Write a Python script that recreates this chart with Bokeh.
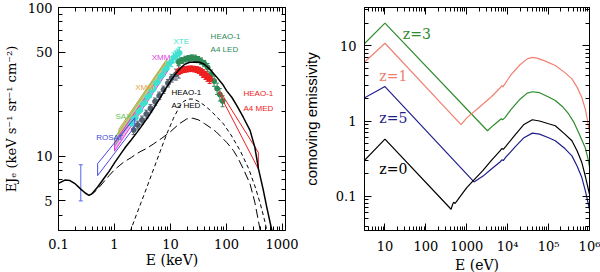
from bokeh.plotting import figure
from bokeh.models import LogAxis, FixedTicker, Label, Whisker, ColumnDataSource, TeeHead
from bokeh.layouts import row
from bokeh.embed import file_html
from bokeh.resources import INLINE

SERIF = "DejaVu Serif"
SANS = "Liberation Sans"

# ---------------- Left panel data (E in keV, EJ_E) ----------------
E_total = [0.1, 0.13, 0.16, 0.2, 0.25, 0.3, 0.35, 0.4, 0.5, 0.64, 0.8, 1.0, 1.3, 1.6, 2.0, 2.5, 3.0, 4.0, 5.0,
           6.5, 8.0, 10, 12.5, 15, 18, 22, 27, 33, 40, 50, 67, 85, 100, 125, 153, 200, 263, 320, 372, 450, 525, 645]
V_total = [6.55, 6.9, 6.85, 6.5, 6.0, 5.65, 5.45, 5.6, 6.2, 7.05, 7.9, 9.0, 10.4, 11.6, 12.9, 14.4, 15.8, 18.4, 21.0,
           24.6, 28.0, 32.0, 36.0, 39.0, 41.5, 42.8, 43.0, 42.8, 41.5, 38.5, 34.0, 30.5, 27.6, 24.8, 21.9, 18.2, 14.9,
           11.5, 8.2, 6.0, 4.5, 3.16]

E_long = [0.35, 0.42, 0.5, 0.64, 0.8, 1.0, 1.45, 2.0, 2.5, 3.0, 3.8, 5.0, 7.0, 10, 14, 19.5, 25, 32, 40, 51, 65, 80,
          100, 133, 160, 200, 263, 320, 400]
V_long = [5.45, 5.65, 6.0, 6.7, 7.4, 8.1, 9.1, 9.8, 10.4, 10.8, 11.3, 12.1, 13.2, 14.6, 16.4, 17.8, 18.0, 17.5, 16.6,
          15.6, 14.6, 13.5, 12.4, 10.9, 9.7, 8.2, 6.5, 4.9, 3.16]

E_short = [1.9, 2.5, 3.0, 3.8, 5.0, 6.5, 8.5, 11.3, 14, 17, 21, 26, 32, 40, 50, 65, 88, 120, 175, 250, 325, 400, 470, 525]
V_short = [3.1, 4.1, 4.9, 6.2, 8.2, 10.7, 14.0, 18.0, 21.0, 23.3, 24.2, 24.2, 23.3, 22.0, 20.5, 18.6, 16.5, 13.9, 10.9,
           8.2, 6.2, 4.8, 3.8, 3.16]

# ROSAT bowtie and HEAO-1 A4 MED bowtie outlines
E_rosat = [0.5, 0.5, 2.3, 2.3]
V_rosat = [8.9, 7.4, 15.8, 18.1]
E_med_box = [72, 370, 370, 78]
V_med_box = [27.0, 8.2, 10.6, 27.0]

# SAX / XMM / XMM spectral bands (lower edge then upper edge, reversed)
E_sax = [1.0, 8.0, 8.0, 1.0]
V_sax = [11.6, 38.0, 42.5, 13.2]
E_xmm1 = [1.2, 8.6, 8.6, 1.2]
V_xmm1 = [13.6, 40.5, 45.0, 15.2]
E_xmm2 = [1.0, 9.0, 9.0, 1.0]
V_xmm2 = [10.8, 37.5, 41.5, 12.4]

# XTE points
E_xte = [2.0, 2.2, 2.4, 2.65, 2.9, 3.2, 3.5, 3.85, 4.2, 4.6, 5.0, 5.5, 6.0, 6.6, 7.2, 7.9, 8.6, 9.4, 10.3, 11.3,
         12.3, 13.4, 14.5]
V_xte = [16.5, 17.8, 18.2, 19.8, 20.4, 22.3, 22.9, 24.9, 25.5, 27.6, 28.3, 30.8, 31.6, 34.2, 35.2, 38.0, 39.0, 42.0,
         43.2, 46.0, 46.8, 48.5, 49.5]
E_xte_err = [10.3, 11.3, 12.3, 13.4, 14.5]
V_xte_lo = [40.0, 42.5, 43.0, 44.5, 45.0]
V_xte_hi = [46.5, 49.5, 51.0, 52.5, 54.0]

# Gray points
E_gray = [2.2, 2.6, 3.1, 3.7, 4.4, 5.3, 6.3, 7.5, 9.0, 10.5, 12.5, 14.0]
V_gray = [15.0, 16.2, 17.5, 19.2, 21.0, 23.3, 25.5, 28.0, 31.0, 33.5, 35.5, 37.0]
V_gray_lo = [14.0, 15.2, 16.4, 18.0, 19.8, 22.0, 24.0, 26.4, 29.2, 31.5, 32.5, 33.5]
V_gray_hi = [16.0, 17.2, 18.6, 20.4, 22.2, 24.6, 27.0, 29.6, 32.8, 35.5, 38.5, 40.5]

# HEAO-1 A4 LED points
E_led = [14, 16, 18.5, 21, 24, 27.5, 31, 35, 40, 46, 53, 60, 68, 76, 85]
V_led = [43.0, 44.0, 45.0, 45.5, 45.8, 45.5, 44.5, 43.5, 42.0, 39.5, 35.5, 32.0, 28.5, 26.0, 23.5]
V_led_lo = [41.0, 42.0, 43.0, 43.5, 43.8, 43.5, 42.5, 41.5, 40.0, 37.0, 33.0, 29.5, 26.0, 23.5, 21.5]
V_led_hi = [45.0, 46.0, 47.0, 47.5, 48.0, 47.8, 46.8, 45.8, 44.0, 42.0, 38.0, 34.5, 31.0, 28.5, 25.5]

# HEAO-1 A4 MED points
E_med = [14, 15, 16.5, 18, 19.5, 21, 23, 25, 27, 29.5, 32, 35, 38, 42, 46, 50]
V_med = [37.0, 37.5, 38.0, 38.3, 38.5, 38.6, 38.7, 38.6, 38.5, 38.2, 37.8, 37.0, 36.0, 35.0, 34.0, 33.0]
V_med_lo = [35.5, 36.0, 36.5, 36.8, 37.0, 37.1, 37.2, 37.1, 37.0, 36.6, 36.0, 35.0, 33.8, 32.8, 31.8, 30.8]
V_med_hi = [38.5, 39.0, 39.5, 39.8, 40.0, 40.1, 40.2, 40.1, 40.0, 39.8, 39.6, 39.0, 38.2, 37.2, 36.2, 35.2]

# Low energy blue error bar
E_lowbar = [0.25]
V_lowbar_lo = [5.0]
V_lowbar_hi = [8.75]

# ---------------- Right panel data (E in eV, comoving emissivity) ----------------
E_z3 = [3.0, 10, 3200, 4500, 6000, 7000, 7500, 8500, 12000, 20000, 30000, 40000, 60000, 100000, 146000, 220000,
        309000, 420000, 541000, 650000, 782000, 900000, 1000000]
V_z3 = [10.4, 20.0, 0.742, 0.88, 1.0, 1.07, 1.04, 1.1, 1.42, 1.95, 2.35, 2.45, 2.38, 2.08, 1.87, 1.55, 1.24, 0.95,
        0.705, 0.56, 0.445, 0.33, 0.248]

E_z1 = [3.0, 10, 723, 1000, 2020, 4000, 6500, 7200, 7600, 8500, 12000, 20000, 30000, 40000, 55000, 80000, 146000,
        250000, 372000, 500000, 650000, 800000, 900000, 1000000]
V_z1 = [5.9, 10.8, 0.893, 1.1, 1.52, 2.1, 2.75, 2.95, 2.85, 3.1, 4.1, 5.6, 6.7, 7.0, 6.8, 6.3, 5.46, 4.4, 3.63, 2.8,
        2.06, 1.4, 1.0, 0.705]

E_z5 = [3.0, 10, 1500, 2500, 4000, 6500, 7200, 7800, 9000, 15000, 25000, 40000, 60000, 100000, 146000, 250000,
        372000, 500000, 650000, 800000, 1000000]
V_z5 = [2.0, 2.87, 0.155, 0.185, 0.23, 0.285, 0.305, 0.298, 0.33, 0.45, 0.6, 0.69, 0.67, 0.6, 0.546, 0.43, 0.344,
        0.25, 0.177, 0.115, 0.067]

E_z0 = [3.0, 10, 414, 450, 480, 520, 560, 700, 1000, 1500, 2430, 4000, 6500, 7200, 7800, 9000, 15000, 25000, 40000,
        60000, 100000, 146000, 250000, 372000, 500000, 650000, 800000, 1000000]
V_z0 = [0.29, 0.575, 0.0671, 0.078, 0.083, 0.08, 0.085, 0.1, 0.13, 0.165, 0.217, 0.3, 0.4, 0.43, 0.42, 0.46, 0.65,
        0.9, 1.04, 1.0, 0.92, 0.866, 0.67, 0.546, 0.4, 0.28, 0.18, 0.106]

# Tick definitions
L_xticks = [0.1, 1, 10, 100, 1000]
L_xlabels = ["0.1", "1", "10", "100", "1000"]
L_yticks = [5, 10, 50, 100]
L_ylabels = ["5", "10", "50", "100"]
R_xticks = [10, 100, 1000, 10000, 100000, 1000000]
R_xlabels = ["10", "100", "1000", "10\u2074", "10\u2075", "10\u2076"]
R_yticks = [0.1, 1, 10]
R_ylabels = ["0.1", "1", "10"]


def minor_ticks(lo_exp, hi_exp):
    out = []
    for e in range(lo_exp, hi_exp + 1):
        for m in range(2, 10):
            out.append(m * 10.0 ** e)
    return out


def style(p, xt, xl, xminor, yt, yl, yminor, xlabel, ylabel, ylabel_font, ylabel_size, ylab_standoff, ytick_standoff):
    p.grid.visible = False
    p.outline_line_color = "black"
    p.outline_line_width = 1
    p.background_fill_color = "white"
    p.border_fill_color = "white"
    for ax, t, lab, mn in ((p.xaxis[0], xt, xl, xminor), (p.yaxis[0], yt, yl, yminor)):
        ax.ticker = FixedTicker(ticks=t, minor_ticks=mn)
        ax.major_label_overrides = {k: v for k, v in zip(t, lab)}
        ax.major_tick_in = 7
        ax.major_tick_out = 0
        ax.minor_tick_in = 4
        ax.minor_tick_out = 0
        ax.major_label_text_font = SERIF
        ax.major_label_text_font_size = "13px"
        ax.major_label_text_color = "black"
        ax.axis_line_color = "black"
        ax.major_tick_line_color = "black"
        ax.minor_tick_line_color = "black"
        ax.axis_label_text_font_style = "normal"
        ax.axis_label_text_color = "black"
    p.xaxis.axis_label = xlabel
    p.xaxis.axis_label_text_font = SERIF
    p.xaxis.axis_label_text_font_size = "14px"
    p.xaxis.major_label_standoff = 8
    p.xaxis.axis_label_standoff = 0
    p.yaxis.axis_label = ylabel
    p.yaxis.axis_label_text_font = ylabel_font
    p.yaxis.axis_label_text_font_size = ylabel_size
    p.yaxis.major_label_standoff = ytick_standoff
    p.yaxis.axis_label_standoff = ylab_standoff
    # mirrored tick axes (no labels)
    for place, t, mn in (("above", xt, xminor), ("right", yt, yminor)):
        ax = LogAxis(ticker=FixedTicker(ticks=t, minor_ticks=mn))
        ax.major_label_text_font_size = "1px"
        ax.major_label_text_color = None
        ax.major_label_standoff = 0
        ax.axis_label_standoff = 0
        ax.major_tick_in = 7
        ax.major_tick_out = 0
        ax.minor_tick_in = 4
        ax.minor_tick_out = 0
        ax.axis_line_color = "black"
        p.add_layout(ax, place)


def label(p, x, y, text, color, font, size, align="left"):
    p.add_layout(Label(x=x, y=y, text=text, text_color=color, text_font=font, text_font_size=size,
                       text_align=align, text_baseline="middle"))


def errbars(p, xs, lo, hi, color):
    src = ColumnDataSource(dict(x=xs, lo=lo, hi=hi))
    p.add_layout(Whisker(source=src, base="x", lower="lo", upper="hi", dimension="height",
                         line_color=color, line_width=1,
                         lower_head=TeeHead(size=4, line_color=color),
                         upper_head=TeeHead(size=4, line_color=color)))


FH = 223

# ---------------- Left figure ----------------
p1 = figure(frame_width=227, frame_height=FH, x_axis_type="log", y_axis_type="log",
            x_range=(0.1, 1130), y_range=(3.16, 100),
            output_backend="svg", toolbar_location=None,
            min_border_left=55, min_border_right=13, min_border_top=7, min_border_bottom=40)
style(p1, L_xticks, L_xlabels, minor_ticks(-1, 2), L_yticks, L_ylabels, minor_ticks(0, 1),
      "E (keV)", "EJ\u2091 (keV s\u207b\u00b9 sr\u207b\u00b9 cm\u207b\u00b2)", SERIF, "13px", 6, 6)

C_SAX, C_XMM1, C_XMM2 = "#5cc85c", "#e8a048", "#e040e0"
C_XTE, C_GRAY, C_LED, C_MED, C_ROSAT = "#40e0d0", "#4f5f6f", "#2e8b57", "#ee2020", "#4848e0"

p1.patch(E_sax, V_sax, fill_color=C_SAX, fill_alpha=0.45, line_color=C_SAX, line_width=1)
p1.patch(E_xmm1, V_xmm1, fill_color=C_XMM1, fill_alpha=0.45, line_color="#b0b040", line_width=1)
p1.patch(E_xmm2, V_xmm2, fill_color=C_XMM2, fill_alpha=0.40, line_color=C_XMM2, line_width=1)

errbars(p1, E_gray, V_gray_lo, V_gray_hi, C_GRAY)
p1.scatter(E_gray, V_gray, size=5, marker="circle", fill_color=C_GRAY, line_color=C_GRAY)
errbars(p1, E_xte_err, V_xte_lo, V_xte_hi, C_XTE)
p1.scatter(E_xte, V_xte, size=5, marker="circle", fill_color=C_XTE, line_color=C_XTE)
errbars(p1, E_led, V_led_lo, V_led_hi, C_LED)
p1.scatter(E_led, V_led, size=5, marker="circle", fill_color=C_LED, line_color=C_LED)
errbars(p1, E_med, V_med_lo, V_med_hi, C_MED)
p1.scatter(E_med, V_med, size=6, marker="circle", fill_color=C_MED, line_color=C_MED)

p1.patch(E_rosat, V_rosat, fill_alpha=0, line_color=C_ROSAT, line_width=1)
p1.patch(E_med_box, V_med_box, fill_alpha=0, line_color=C_MED, line_width=1)
errbars(p1, E_lowbar, V_lowbar_lo, V_lowbar_hi, "#5566ee")

p1.line(E_short, V_short, line_color="black", line_width=1, line_dash="4 3")
p1.line(E_long, V_long, line_color="black", line_width=1, line_dash="9 4")
p1.line(E_total, V_total, line_color="black", line_width=1.5)

LS = "8px"
label(p1, 0.47, 13.4, "ROSAT", C_ROSAT, SANS, LS)
label(p1, 1.04, 18.5, "SAX", C_SAX, SANS, LS)
label(p1, 2.34, 28.8, "XMM", C_XMM1, SANS, LS)
label(p1, 4.6, 46, "XMM", C_XMM2, SANS, LS)
label(p1, 11.3, 59, "XTE", C_XTE, SANS, LS)
label(p1, 52, 63.6, "HEAO-1", C_LED, SANS, LS)
label(p1, 52, 51.8, "A4 LED", C_LED, SANS, LS)
label(p1, 10.4, 26.9, "HEAO-1", "black", SANS, LS)
label(p1, 10.4, 21.9, "A2 HED", "black", SANS, LS)
label(p1, 201, 26.2, "HEAO-1", C_MED, SANS, LS)
label(p1, 201, 20.8, "A4 MED", C_MED, SANS, LS)

# ---------------- Right figure ----------------
p2 = figure(frame_width=225, frame_height=FH, x_axis_type="log", y_axis_type="log",
            x_range=(3.16, 1e6), y_range=(0.035, 32.3),
            output_backend="svg", toolbar_location=None,
            min_border_left=66, min_border_right=14, min_border_top=7, min_border_bottom=40)
style(p2, R_xticks, R_xlabels, minor_ticks(0, 5), R_yticks, R_ylabels, minor_ticks(-2, 1),
      "E (eV)", "comoving emissivity", SANS, "15px", 13, 8)

C_Z3, C_Z1, C_Z5, C_Z0 = "#2e8b2e", "#f08070", "#1f1f8a", "black"
p2.line(E_z3, V_z3, line_color=C_Z3, line_width=1.2)
p2.line(E_z1, V_z1, line_color=C_Z1, line_width=1.2)
p2.line(E_z5, V_z5, line_color=C_Z5, line_width=1.2)
p2.line(E_z0, V_z0, line_color=C_Z0, line_width=1.2)

ZS = "14px"
label(p2, 60, 14.4, "z=3", C_Z3, SERIF, ZS, "center")
label(p2, 16, 4.0, "z=1", C_Z1, SERIF, ZS, "center")
label(p2, 16, 1.1, "z=5", C_Z5, SERIF, ZS, "center")
label(p2, 16, 0.23, "z=0", C_Z0, SERIF, ZS, "center")

layout = row(p1, p2, spacing=0)
open("out.html", "w").write(file_html(layout, INLINE))
